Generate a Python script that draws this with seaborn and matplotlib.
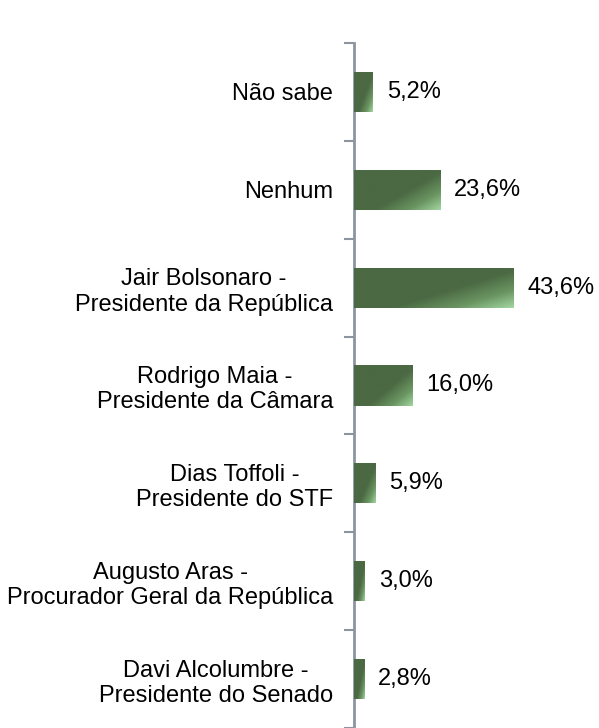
import numpy as np
import pandas as pd
import seaborn as sns
import matplotlib.pyplot as plt
from matplotlib.colors import LinearSegmentedColormap

# dados do gráfico (de cima para baixo)
categorias = [
    "Não sabe",
    "Nenhum",
    "Jair Bolsonaro -\nPresidente da República",
    "Rodrigo Maia -\nPresidente da Câmara",
    "Dias Toffoli -\nPresidente do STF",
    "Augusto Aras -\nProcurador Geral da República",
    "Davi Alcolumbre -\nPresidente do Senado",
]
valores = [5.2, 23.6, 43.6, 16.0, 5.9, 3.0, 2.8]
rotulos = ["5,2%", "23,6%", "43,6%", "16,0%", "5,9%", "3,0%", "2,8%"]

df = pd.DataFrame({"cat": categorias, "valor": valores})

sns.set_style("white")
plt.rcParams["font.family"] = ["Liberation Sans", "DejaVu Sans"]

fig = plt.figure(figsize=(5.99, 7.28), dpi=100)
ax = fig.add_axes([354 / 599, 0, 1 - 354 / 599, 1 - 43 / 728])

sns.barplot(data=df, x="valor", y="cat", orient="h", color="#4b6943",
            width=0.41, saturation=1, ax=ax)

# gradiente diagonal no canto inferior direito das barras
cmap = LinearSegmentedColormap.from_list(
    "verde", [(0, "#4b6943"), (0.58, "#4b6943"), (0.8, "#6a9562"), (1, "#a3d6a0")])
u, v = np.meshgrid(np.linspace(0, 1, 200), np.linspace(0, 1, 60))
grad = 0.55 * u + 0.45 * v
for p in ax.patches:
    x0, y0, x1, y1 = p.get_bbox().x0, p.get_bbox().y0, p.get_bbox().x1, p.get_bbox().y1
    im = ax.imshow(grad, cmap=cmap, vmin=0, vmax=1, aspect="auto",
                   extent=(x0, x1, y1, y0), origin="upper", zorder=3,
                   interpolation="bilinear")
    im.set_clip_path(p)

ax.set_xlim(0, (599 - 354) / 3.65)
ax.set_ylim(6.5, -0.5)

for i, r in enumerate(rotulos):
    ax.annotate(r, xy=(valores[i], i), xytext=(10, 0), textcoords="offset points",
                ha="left", va="center", fontsize=17, color="black")

ax.set_xlabel("")
ax.set_ylabel("")
ax.set_xticks([])
ax.set_yticks(range(len(categorias)))
ax.set_yticklabels(categorias, fontsize=17, color="black")
for t in ax.get_yticklabels():
    t.set_multialignment("center")
ax.tick_params(axis="y", which="major", length=0, pad=15)
ax.set_yticks(np.arange(-0.5, 7, 1), minor=True)
ax.tick_params(axis="y", which="minor", length=7, width=1.5, color="#8c959f", left=True)

for s in ["top", "right", "bottom"]:
    ax.spines[s].set_visible(False)
ax.spines["left"].set_color("#8c959f")
ax.spines["left"].set_linewidth(2)

fig.savefig("out.png", dpi=100)
